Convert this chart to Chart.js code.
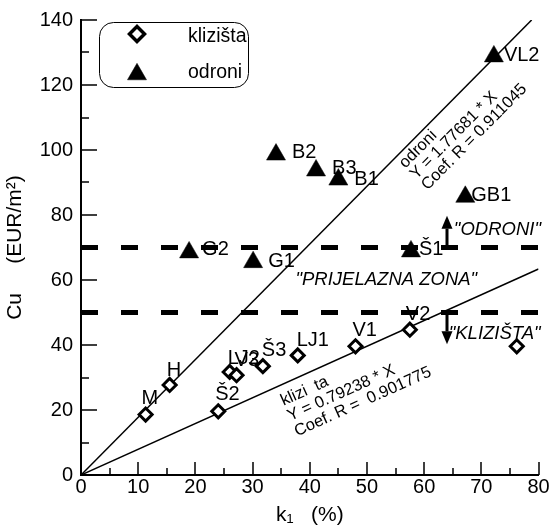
<!DOCTYPE html>
<html>
<head>
<meta charset="utf-8">
<script src="https://cdn.jsdelivr.net/npm/chart.js@4.4.0/dist/chart.umd.min.js"></script>
<style>
  html, body { margin: 0; padding: 0; background: #fff; }
  #wrap { width: 550px; height: 530px; }
</style>
</head>
<body>
<div id="wrap"><canvas id="chart" width="550" height="530"></canvas></div>
<script>
// klizišta (landslides) - open diamonds
const kliziX = [11.3, 15.5, 24, 26, 27.2, 31.8, 37.9, 48, 57.5, 76.2];
const kliziY = [18.6, 27.7, 19.6, 31.7, 30.7, 33.5, 36.8, 39.6, 44.7, 39.6];
const kliziNames = ['M', 'H', 'Š2', 'LJ2', 'V3', 'Š3', 'LJ1', 'V1', 'V2', ''];

// odroni (rockfalls) - filled triangles
const odroniX = [18.9, 30.1, 34.1, 41.1, 45, 72.2, 67.2, 57.7];
const odroniY = [68.5, 65.5, 98.6, 93.7, 90.9, 128.8, 85.6, 68.8];
const odroniNames = ['G2', 'G1', 'B2', 'B3', 'B1', 'VL2', 'GB1', 'Š1'];

// regression lines, end points
const odroniFitX = [0, 78.8];
const odroniFitY = [0, 140];
const kliziFitX = [0, 80];
const kliziFitY = [0, 63.4];
const odroniFitText = ['odroni', 'Y = 1.77681 * X', 'Coef. R = 0.911045'];
const kliziFitText = ['klizi  ta', 'Y = 0.79238 * X', 'Coef. R =  0.901775'];

// zone borders
const zoneX = [0, 80];
const upperBorder = [70, 70];
const lowerBorder = [50, 50];

// axes
const xTickValues = [0, 10, 20, 30, 40, 50, 60, 70, 80];
const xMinorTicks = [5, 15, 25, 35, 45, 55, 65, 75];
const yTickValues = [0, 20, 40, 60, 80, 100, 120, 140];
const yMinorTicks = [10, 30, 50, 70, 90, 110, 130];

// label placement (px, left edge / baseline relative to the marker)
const kliziLabelShift = [[-4, -11], [-3, -9], [-3, -11], [-2, -8], [-2, -9], [-1, -10], [-1, -9], [-3, -10], [-4, -10], [0, 0]];
const odroniLabelShift = [[13, 3], [15, 5], [16, 3], [16, 4], [16, 5], [10, 5], [6, 4], [8, 4]];

const font = "'Liberation Sans', Arial, Helvetica, sans-serif";

const toPoints = (xs, ys) => xs.map((x, i) => ({ x: x, y: ys[i] }));

// tick marks point into the plot, drawn on the scale positions
const inwardTicks = {
  id: 'inwardTicks',
  afterDatasetsDraw(chart) {
    const { ctx, scales: { x, y } } = chart;
    ctx.save();
    ctx.strokeStyle = '#000';
    ctx.lineWidth = 1.5;
    ctx.beginPath();
    const xTick = (v, len) => {
      const px = Math.round(x.getPixelForValue(v));
      ctx.moveTo(px, y.bottom);
      ctx.lineTo(px, y.bottom - len);
    };
    const yTick = (v, len) => {
      const py = Math.round(y.getPixelForValue(v));
      ctx.moveTo(x.left, py);
      ctx.lineTo(x.left + len, py);
    };
    xTickValues.forEach(v => xTick(v, 13));
    xMinorTicks.forEach(v => xTick(v, 7));
    yTickValues.forEach(v => yTick(v, 16));
    yMinorTicks.forEach(v => yTick(v, 8));
    ctx.stroke();
    ctx.restore();
  }
};

// point names sit under the lines
const pointLabels = {
  id: 'pointLabels',
  beforeDatasetsDraw(chart) {
    const { ctx } = chart;
    ctx.save();
    ctx.font = '20px ' + font;
    ctx.fillStyle = '#000';
    ctx.textAlign = 'left';
    ctx.textBaseline = 'alphabetic';
    [[0, kliziNames, kliziLabelShift], [1, odroniNames, odroniLabelShift]].forEach(([di, names, shift]) => {
      chart.getDatasetMeta(di).data.forEach((pt, i) => {
        if (!names[i]) return;
        ctx.fillText(names[i], pt.x + shift[i][0], pt.y + shift[i][1]);
      });
    });
    ctx.restore();
  }
};

function textAlongLine(ctx, lines, x, y, angle, spacing) {
  ctx.save();
  ctx.translate(x, y);
  ctx.rotate(angle);
  lines.forEach((t, i) => ctx.fillText(t, 0, i * spacing));
  ctx.restore();
}

function arrow(ctx, px, fromY, toY) {
  const dir = toY < fromY ? -1 : 1;
  const head = 13;
  ctx.fillRect(px - 1.5, Math.min(fromY, toY - dir * head), 3, Math.abs(toY - dir * head - fromY));
  ctx.beginPath();
  ctx.moveTo(px, toY);
  ctx.lineTo(px - 5.5, toY - dir * head);
  ctx.lineTo(px + 5.5, toY - dir * head);
  ctx.closePath();
  ctx.fill();
}

const annotations = {
  id: 'annotations',
  afterDatasetsDraw(chart) {
    const { ctx, scales: { x, y } } = chart;
    ctx.save();
    ctx.fillStyle = '#000';
    ctx.strokeStyle = '#000';

    // zone names
    ctx.font = 'italic 18.5px ' + font;
    ctx.textAlign = 'left';
    ctx.textBaseline = 'middle';
    ctx.fillText('"ODRONI"', x.getPixelForValue(65.2), y.getPixelForValue(75.3));
    ctx.fillText('"PRIJELAZNA ZONA"', x.getPixelForValue(37.5), y.getPixelForValue(60));
    ctx.fillText('"KLIZIŠTA"', x.getPixelForValue(64.3), y.getPixelForValue(43.3));

    // arrows out of the transition zone
    const ax = x.getPixelForValue(64);
    arrow(ctx, ax, y.getPixelForValue(70), y.getPixelForValue(79.8));
    arrow(ctx, ax, y.getPixelForValue(50), y.getPixelForValue(40.2));

    // regression equations along their lines
    ctx.font = '16.5px ' + font;
    ctx.textBaseline = 'alphabetic';
    const slopeAngle = (xs, ys) => Math.atan2(
      y.getPixelForValue(ys[1]) - y.getPixelForValue(ys[0]),
      x.getPixelForValue(xs[1]) - x.getPixelForValue(xs[0]));
    textAlongLine(ctx, odroniFitText, x.getPixelForValue(56.7), y.getPixelForValue(94.2),
      slopeAngle(odroniFitX, odroniFitY), 15.6);
    textAlongLine(ctx, kliziFitText, x.getPixelForValue(35.4), y.getPixelForValue(21.3),
      slopeAngle(kliziFitX, kliziFitY), 16.8);

    // legend box
    ctx.lineWidth = 1;
    ctx.beginPath();
    ctx.roundRect(99.5, 22.5, 149, 65, 14);
    ctx.stroke();
    const ds = chart.data.datasets;
    ctx.strokeStyle = ds[0].borderColor;
    ctx.fillStyle = ds[0].backgroundColor;
    ctx.lineWidth = 3.5;
    Chart.helpers.drawPoint(ctx, { pointStyle: ds[0].pointStyle, radius: 7.5, borderWidth: 3.5, rotation: 0 }, 137, 34);
    ctx.fillStyle = ds[1].backgroundColor;
    ctx.strokeStyle = ds[1].borderColor;
    ctx.lineWidth = 0.5;
    Chart.helpers.drawPoint(ctx, { pointStyle: ds[1].pointStyle, radius: 11, borderWidth: 0.5, rotation: 0 }, 137, 74.3);
    ctx.fillStyle = '#000';
    ctx.font = '19.5px ' + font;
    ctx.fillText(ds[0].label, 188, 41.5);
    ctx.fillText(ds[1].label, 188, 77.5);
    ctx.restore();
  }
};

new Chart(document.getElementById('chart'), {
  type: 'scatter',
  data: {
    datasets: [
      {
        label: 'klizišta',
        data: toPoints(kliziX, kliziY),
        pointStyle: 'rectRot',
        pointRadius: 6.5,
        borderWidth: 3,
        borderColor: '#000',
        backgroundColor: '#fff',
        order: 0
      },
      {
        label: 'odroni',
        data: toPoints(odroniX, odroniY),
        pointStyle: 'triangle',
        pointRadius: 11,
        borderWidth: 0.5,
        borderColor: '#000',
        backgroundColor: '#000',
        order: 0
      },
      {
        label: 'odroni fit',
        data: toPoints(odroniFitX, odroniFitY),
        showLine: true,
        pointRadius: 0,
        borderWidth: 1.5,
        borderColor: '#000',
        order: 1
      },
      {
        label: 'klizišta fit',
        data: toPoints(kliziFitX, kliziFitY),
        showLine: true,
        pointRadius: 0,
        borderWidth: 1.5,
        borderColor: '#000',
        order: 1
      },
      {
        label: 'granica odroni',
        data: toPoints(zoneX, upperBorder),
        showLine: true,
        pointRadius: 0,
        borderWidth: 5,
        borderDash: [17, 23],
        borderCapStyle: 'butt',
        borderColor: '#000',
        order: 1
      },
      {
        label: 'granica klizišta',
        data: toPoints(zoneX, lowerBorder),
        showLine: true,
        pointRadius: 0,
        borderWidth: 5,
        borderDash: [17, 23],
        borderCapStyle: 'butt',
        borderColor: '#000',
        order: 1
      }
    ]
  },
  options: {
    responsive: false,
    animation: false,
    events: [],
    layout: { padding: { top: 16, right: 10, left: 0, bottom: 0 } },
    plugins: {
      legend: { display: false },
      tooltip: { enabled: false }
    },
    scales: {
      x: {
        type: 'linear',
        min: 0,
        max: 80,
        grid: { display: false, drawTicks: false },
        border: { display: true, color: '#000', width: 2 },
        afterBuildTicks: s => { s.ticks = xTickValues.map(v => ({ value: v })); },
        afterFit: s => { s.height = 55; },
        ticks: { color: '#000', padding: 0, maxRotation: 0, font: { family: font, size: 20 } },
        title: {
          display: true,
          text: 'k₁   (%)',
          color: '#000',
          padding: { top: 0, bottom: 2 },
          font: { family: font, size: 21 }
        }
      },
      y: {
        type: 'linear',
        min: 0,
        max: 140,
        grid: { display: false, drawTicks: false },
        border: { display: true, color: '#000', width: 2 },
        afterBuildTicks: s => { s.ticks = yTickValues.map(v => ({ value: v })); },
        afterFit: s => { s.width = 81; },
        ticks: { color: '#000', padding: 8, font: { family: font, size: 20 } },
        title: {
          display: true,
          text: 'Cu     (EUR/m²)',
          color: '#000',
          padding: { top: 3, bottom: 0 },
          font: { family: font, size: 21 }
        }
      }
    }
  },
  plugins: [pointLabels, inwardTicks, annotations]
});
</script>
</body>
</html>
